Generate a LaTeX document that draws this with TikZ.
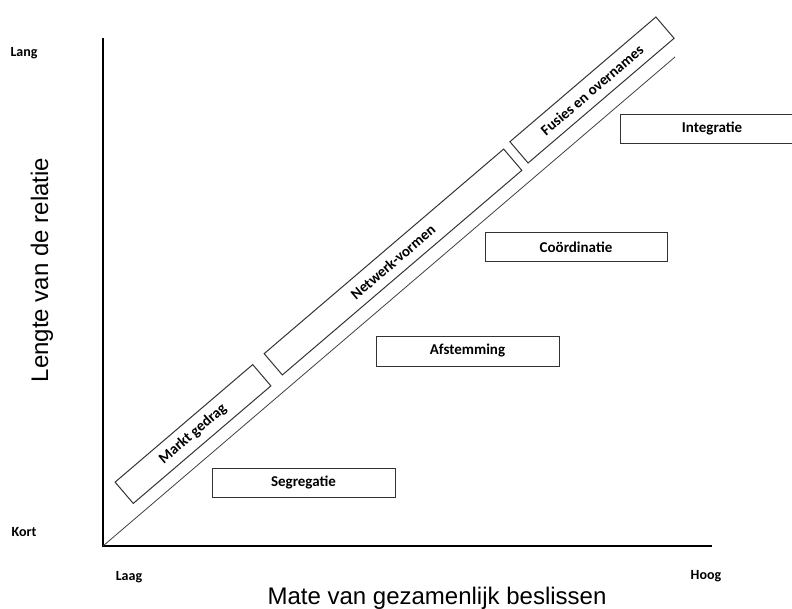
\documentclass[tikz,border=0pt]{standalone}
\usepackage{fontspec}
\setmainfont{Carlito}
\newfontfamily\asfont{Liberation Sans}
\usetikzlibrary{positioning, calc}
\tikzset{
  blok/.style={rectangle, draw=black!80, line width=1pt, minimum width=183pt, minimum height=29pt, inner sep=0pt, text centered, font=\bfseries\fontsize{15}{18}\selectfont},
  schuin/.style={blok, rotate=40.5, minimum height=28pt},
  as/.style={line width=2.6pt, black},
  schaal/.style={font=\bfseries\fontsize{14}{16}\selectfont},
  astitel/.style={font=\asfont\fontsize{24}{28}\selectfont}
}

\begin{document}
\begin{tikzpicture}[x=1pt, y=-1pt]
    \useasboundingbox (0,0) rectangle (792,608);

    % Assen
    \coordinate (O) at (103,546);
    \coordinate (ytop) at (103,38);
    \coordinate (xend) at (712,546);
    \coordinate (diag) at (675,57);
    \draw[as] (ytop) -- (O) -- (xend);
    \draw[line width=0.8pt, black!75] (O) -- (diag);

    % Schaalwaarden
    \node[schaal] (lang) at (24,53) {Lang};
    \node[schaal] (kort) at (24,532) {Kort};
    \node[schaal] (laag) at (129,577) {Laag};
    \node[schaal] (hoog) at (706,576) {Hoog};

    % Astitels
    \node[astitel] (xtitel) at (437,598) {Mate van gezamenlijk beslissen};
    \node[astitel, rotate=90] (ytitel) at (42,270) {Lengte van de relatie};

    % Schuine blokken langs de diagonaal
    \node[schuin, minimum width=181pt] (markt) at (193,434) {Markt gedrag};
    \node[schuin, minimum width=315pt] (netwerk) at (393,262) {Netwerk-vormen};
    \node[schuin, minimum width=192pt] (fusies) at (592,90) {Fusies en overnames};

    % Horizontale blokken
    \node[blok] (segregatie) at (303.5,482.5) {Segregatie};
    \node[blok, minimum height=30pt] (afstemming) at (467.5,351) {Afstemming};
    \node[blok, minimum width=182pt] (coordinatie) at (576,247) {Coördinatie};
    \node[blok] (integratie) at (712,128.5) {Integratie};
\end{tikzpicture}
\end{document}
